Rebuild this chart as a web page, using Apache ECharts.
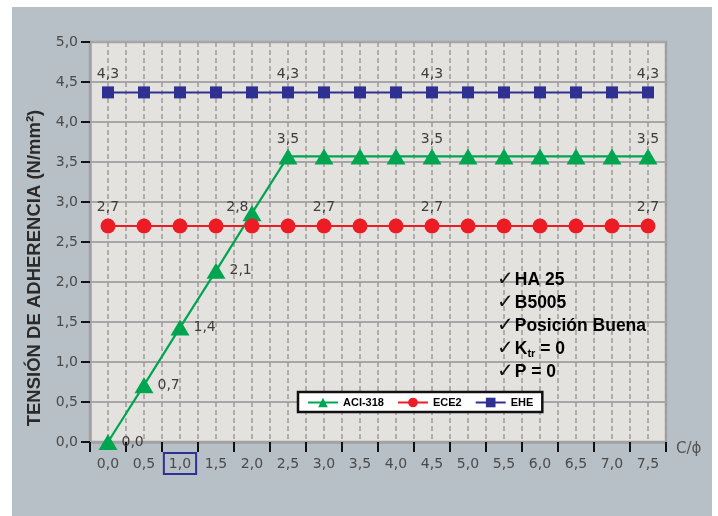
<!DOCTYPE html>
<html>
<head>
<meta charset="utf-8">
<script src="https://cdn.jsdelivr.net/npm/echarts@6/dist/echarts.min.js"></script>
<style>
html,body{margin:0;padding:0;background:#fff;}
#chart{width:718px;height:516px;}
</style>
</head>
<body>
<div id="chart"></div>
<script>
// ---- data ----
const categories = ['0,0','0,5','1,0','1,5','2,0','2,5','3,0','3,5','4,0','4,5','5,0','5,5','6,0','6,5','7,0','7,5'];
const aci  = [0, 0.71, 1.43, 2.14, 2.86, 3.57, 3.57, 3.57, 3.57, 3.57, 3.57, 3.57, 3.57, 3.57, 3.57, 3.57];
const ece2 = [2.70, 2.70, 2.70, 2.70, 2.70, 2.70, 2.70, 2.70, 2.70, 2.70, 2.70, 2.70, 2.70, 2.70, 2.70, 2.70];
const ehe  = [4.37, 4.37, 4.37, 4.37, 4.37, 4.37, 4.37, 4.37, 4.37, 4.37, 4.37, 4.37, 4.37, 4.37, 4.37, 4.37];
const aciLabelIdx  = [0, 1, 2, 3, 4, 5, 9, 15];
const ece2LabelIdx = [0, 6, 9, 15];
const eheLabelIdx  = [0, 5, 9, 15];
const highlightedCategory = '1,0';
const seriesNames = ['ACI-318', 'ECE2', 'EHE'];
const yName = 'TENSIÓN DE ADHERENCIA (N/mm²)';
const xName = 'C/ϕ';
const notes = ['HA 25', 'B5005', 'Posición Buena', 'Ktr = 0', 'P = 0'];

const LBL_FONT = 'DejaVu Sans';
const fmtTrunc = v => (Math.floor(v * 10 + 1e-6) / 10).toFixed(1).replace('.', ',');

function buildData(values, labelIdx, posFn) {
  return values.map((v, i) => {
    const item = { value: v };
    if (labelIdx.indexOf(i) >= 0) {
      item.label = Object.assign({ show: true }, posFn(i));
    }
    return item;
  });
}

const labelBase = {
  show: false,
  fontFamily: LBL_FONT,
  fontSize: 14,
  color: '#3d3d3d',
  formatter: p => fmtTrunc(p.value)
};

const chart = echarts.init(document.getElementById('chart'), null, { renderer: 'canvas' });

// note lines as rich text
const noteText = notes.map(n => {
  if (n.indexOf('Ktr') === 0) {
    return '{c|✓}{b|K}{s|tr}{b|' + n.slice(3) + '}';
  }
  return '{c|✓}{b|' + n + '}';
}).join('\n');

chart.setOption({
  backgroundColor: '#ffffff',
  animation: false,
  graphic: [
    { type: 'rect', z: -100, shape: { x: 12, y: 7, width: 700, height: 509 }, style: { fill: '#b8c0c7' }, silent: true },
    {
      type: 'text', z: 100, left: 497, top: 270,
      style: {
        text: noteText,
        fill: '#000',
        rich: {
          c: { fontFamily: 'DejaVu Sans', fontWeight: 'bold', fontSize: 20, fill: '#111', lineHeight: 23, padding: [0, 1, 0, 0] },
          b: { fontFamily: 'Liberation Sans', fontWeight: 'bold', fontSize: 17.5, fill: '#000', lineHeight: 23 },
          s: { fontFamily: 'Liberation Sans', fontWeight: 'bold', fontSize: 11, fill: '#000', lineHeight: 23, padding: [9, 0, 0, 0] }
        }
      }
    }
  ],
  grid: {
    left: 90, top: 42, right: 52, bottom: 74,
    show: true,
    backgroundColor: '#e4e2df',
    borderColor: '#a2a2a2',
    borderWidth: 2.5
  },
  legend: {
    left: 298, top: 392,
    data: seriesNames,
    backgroundColor: '#ffffff',
    borderColor: '#111',
    borderWidth: 2.5,
    borderRadius: 0,
    padding: [5, 9, 4, 9],
    itemGap: 13,
    itemWidth: 30,
    itemHeight: 12,
    textStyle: { fontFamily: 'Liberation Sans', fontWeight: 'bold', fontSize: 11, color: '#000', padding: [0, 0, 0, 0] }
  },
  xAxis: [
    {
      type: 'category',
      data: categories,
      boundaryGap: true,
      name: xName,
      nameLocation: 'end',
      nameGap: 10,
      nameTextStyle: { fontFamily: LBL_FONT, fontSize: 15, color: '#555', verticalAlign: 'top', padding: [0, 0, 0, 0] },
      axisLine: { show: true, lineStyle: { color: '#a2a2a2', width: 2.5 } },
      axisTick: { show: true, length: 10, lineStyle: { color: '#111', width: 2 } },
      axisLabel: {
        margin: 11,
        interval: 0,
        formatter: v => v === highlightedCategory ? '{hl|' + v + '}' : '{n|' + v + '}',
        rich: {
          n: { fontFamily: LBL_FONT, fontSize: 14, color: '#4a4a4a', padding: [4, 5, 3, 5] },
          hl: { fontFamily: LBL_FONT, fontSize: 14, color: '#4a4a4a', padding: [4, 5, 3, 5], borderColor: '#2e3192', borderWidth: 2 }
        }
      },
      splitLine: { show: false }
    },
    {
      type: 'value',
      min: 0, max: 32, interval: 1,
      show: true,
      position: 'top',
      axisLine: { show: false },
      axisTick: { show: false },
      axisLabel: { show: false },
      splitLine: { show: true, lineStyle: { color: '#9c9c9c', width: 1.5, type: [5, 3] } }
    }
  ],
  yAxis: {
    type: 'value',
    min: 0, max: 5, interval: 0.5,
    name: yName,
    nameLocation: 'middle',
    nameGap: 44,
    nameTextStyle: { fontFamily: 'Liberation Sans', fontWeight: 'bold', fontSize: 18.5, color: '#2a2a2a', padding: [0, 52, 0, 0] },
    axisLine: { show: true, lineStyle: { color: '#a2a2a2', width: 2.5 } },
    axisTick: { show: true, length: 9, lineStyle: { color: '#111', width: 2 } },
    axisLabel: {
      margin: 12,
      fontFamily: LBL_FONT, fontSize: 14, color: '#4a4a4a',
      formatter: v => v.toFixed(1).replace('.', ',')
    },
    splitLine: { show: true, lineStyle: { color: '#a6a6a6', width: 2 } }
  },
  series: [
    {
      name: seriesNames[0], type: 'line', xAxisIndex: 0,
      data: buildData(aci, aciLabelIdx, i => {
        if (i === 4) return { position: 'left', distance: 0, offset: [6, -6] };
        if (i < 5) return { position: 'right', distance: 4 };
        return { position: 'top', distance: 2 };
      }),
      symbol: 'triangle', symbolSize: [19, 16],
      lineStyle: { color: '#00a550', width: 2.2 },
      itemStyle: { color: '#00a550' },
      label: labelBase,
      z: 3
    },
    {
      name: seriesNames[1], type: 'line', xAxisIndex: 0,
      data: buildData(ece2, ece2LabelIdx, () => ({ position: 'top', distance: 4 })),
      symbol: 'circle', symbolSize: 15,
      lineStyle: { color: '#ed1c24', width: 2 },
      itemStyle: { color: '#ed1c24' },
      label: labelBase,
      z: 4
    },
    {
      name: seriesNames[2], type: 'line', xAxisIndex: 0,
      data: buildData(ehe, eheLabelIdx, () => ({ position: 'top', distance: 5 })),
      symbol: 'rect', symbolSize: 12,
      lineStyle: { color: '#2e3192', width: 2 },
      itemStyle: { color: '#2e3192' },
      label: labelBase,
      z: 5
    }
  ]
});
</script>
</body>
</html>
